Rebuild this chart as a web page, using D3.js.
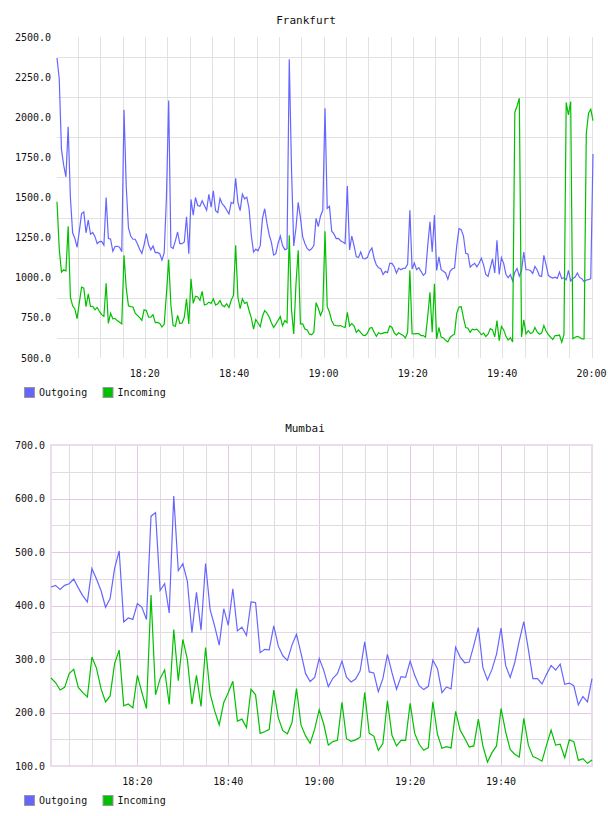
<!DOCTYPE html>
<meta charset="utf-8">
<style>
body { margin: 0; background: #fff; }
text { font-family: "DejaVu Sans Mono", monospace; font-size: 10px; fill: #111; }
.title { font-size: 11px; }
.line { fill: none; stroke-width: 1.2px; }
</style>
<body>
<script src="https://d3js.org/d3.v7.min.js"></script>
<script>
var width = 608, height = 816;

var seriesNames = ["Outgoing", "Incoming"];
var seriesColors = ["#6666ff", "#00c000"];

// Frankfurt: one sample every 30 s from 18:00:20
var frankfurtStart = "2012-01-01 18:00:20";
var frankfurtStepSec = 30;
var frankfurtOutgoing = [
  2369, 2240, 1800, 1700, 1629, 1940, 1500, 1280, 1245, 1190,
  1290, 1400, 1410, 1280, 1360, 1271, 1282, 1256, 1212, 1225,
  1226, 1203, 1500, 1246, 1240, 1165, 1195, 1196, 1190, 1162,
  2046, 1570, 1310, 1260, 1240, 1240, 1212, 1178, 1152, 1205,
  1275, 1205, 1174, 1198, 1157, 1158, 1150, 1110, 1155, 1500,
  2104, 1192, 1182, 1230, 1285, 1212, 1212, 1223, 1380, 1150,
  1488, 1390, 1500, 1450, 1445, 1480, 1450, 1421, 1520, 1440,
  1542, 1418, 1406, 1494, 1460, 1445, 1421, 1398, 1470, 1463,
  1619, 1470, 1418, 1521, 1492, 1502, 1430, 1265, 1160, 1178,
  1168, 1200, 1370, 1430, 1340, 1268, 1220, 1141, 1150, 1215,
  1260, 1200, 1175, 1180, 2362, 1680, 1198, 1310, 1470, 1375,
  1255, 1213, 1183, 1170, 1180, 1200, 1370, 1318, 1385, 1420,
  2056,
  1432, 1445, 1290, 1273, 1244, 1245, 1231, 1222, 1212, 1571,
  1173, 1260, 1200, 1132, 1126, 1160, 1120, 1118, 1127, 1165,
  1185, 1120, 1080, 1062, 1056, 1020, 1040, 1032, 1090, 1090,
  1068, 1029, 1060, 1050, 1058, 1060, 1085, 1421, 1055, 1092,
  1050, 1063, 1040, 1015, 1028, 1200, 1348, 1160, 1390, 1046,
  1130, 1050, 1040, 1030, 990, 1040, 1056, 1061, 1200, 1306,
  1300, 1260, 1152, 1148, 1066, 1080, 1090, 1068, 1090, 1122,
  1080, 1020, 1008, 1062, 1118, 1030, 1233, 1020, 1125, 1090,
  1022, 1000, 1020, 980, 1035, 1058, 1010, 1045, 1160, 1050,
  1050, 1045, 1027, 1070, 1048, 1013, 1008, 1140, 1080, 1015,
  1004, 998, 1004, 996, 1035, 994, 1000, 987, 1046, 980,
  995, 1004, 1030, 1002, 994, 975, 986, 988, 995, 1771
];
var frankfurtIncoming = [
  1473, 1180, 1035, 1050, 1042, 1320, 879, 825, 806, 745,
  845, 942, 935, 820, 900, 821, 822, 800, 815, 790,
  770, 760, 965, 715, 779, 744, 746, 733, 723, 713,
  1140, 935, 825, 820, 818, 780, 766, 752, 735, 800,
  796, 754, 754, 770, 720, 722, 715, 693, 710, 900,
  1113, 830, 702, 698, 765, 715, 718, 754, 869, 712,
  994, 840, 885, 880, 860, 915, 830, 835, 848, 840,
  869, 830, 838, 858, 827, 820, 838, 815, 860, 890,
  1202, 880, 808, 869, 840, 848, 796, 750, 680, 740,
  718, 695, 760, 795, 780, 756, 720, 690, 711, 735,
  758, 700, 733, 720, 1265, 800, 650, 960, 1171, 712,
  712, 681, 675, 650, 645, 660, 845, 810, 765, 800,
  1290,
  820, 785, 732, 705, 702, 700, 702, 695, 690, 785,
  700, 714, 700, 660, 675, 658, 642, 640, 655, 685,
  690, 660, 635, 657, 650, 655, 660, 657, 700, 690,
  657, 642, 657, 648, 641, 625, 660, 1046, 652, 650,
  652, 652, 640, 640, 630, 760, 910, 660, 963, 619,
  690, 630, 625, 610, 600, 628, 640, 650, 780, 817,
  820, 750, 690, 686, 660, 680, 675, 680, 665, 645,
  655, 634, 648, 683, 675, 632, 733, 608, 697, 675,
  637, 612, 626, 600, 2030, 2070, 2119, 631, 738, 650,
  670, 652, 658, 690, 662, 648, 655, 702, 668, 646,
  630, 615, 640, 640, 643, 598, 645, 2092, 2015, 2098,
  620, 629, 635, 629, 619, 619, 1900, 2025, 2050, 1979
];
var frankfurtYTicks = [500, 750, 1000, 1250, 1500, 1750, 2000, 2250, 2500];
var frankfurtXTicks = ["18:20", "18:40", "19:00", "19:20", "19:40", "20:00"];

// Mumbai: one sample per minute from 18:01
var mumbaiStart = "2012-01-01 18:01:00";
var mumbaiStepSec = 60;
var mumbaiOutgoing = [
  434.5, 437.6, 430, 437.6, 440.7, 449.4, 433, 418, 406.6, 469,
  449.4, 428, 396.7, 412.8, 470, 502, 369.3, 376.7, 374, 403.5,
  396.7, 373.7, 567, 573.5, 428, 440.7, 386, 604.5, 465, 478,
  445, 349, 424.5, 354, 478.5, 392.3, 361.3, 326, 394, 363,
  431.4, 352.6, 359.4, 344, 406.6, 405.3, 311.7, 318, 317.2, 362,
  324, 306, 297.4, 326, 346.4, 310.4,
  272.6, 258, 265.7, 301, 278.8, 248.4, 264, 272.6, 296, 266,
  257, 262.6, 278, 332, 275.8, 274, 239, 263.3, 308.6, 274.4,
  243.4, 267, 265.7, 296, 269.5, 249.6, 242.8, 249, 298, 281.9,
  237.2, 247.8, 244, 322.2, 303.6, 293, 294.3, 325.3, 358.8, 283.7,
  260.8, 280.6, 309.2, 357.6, 288, 265.7, 293, 334, 370, 318,
  263.3, 263.3, 253.4, 271.3, 288, 279.4, 290.6, 252.7, 255, 250,
  214.3, 229.8, 219.8, 263.3
];
var mumbaiIncoming = [
  264.5, 256, 242, 247, 272.6, 280.6, 247, 237, 229, 303.6,
  283, 244.6, 219.8, 231, 291.8, 316.6, 212.4, 216, 208.7, 269.5,
  237.2, 207.4, 419.6, 233, 263.3, 279.4, 214.9, 355, 259.5, 336.5,
  299.3, 215.5, 269.5, 211.2, 321.6, 235.4, 203, 177, 218.6, 237.2,
  258.3, 184, 187.6, 172, 243.4, 233, 161, 164, 168.4, 242,
  190, 166, 160.3, 180.8, 244.6, 176.4,
  156.3, 142.5, 168.8, 205, 178, 138.8, 145.6, 148, 218.8, 151,
  146, 148.8, 153.8, 237.5, 161, 156, 129.4, 142, 222, 157.5,
  137.5, 148, 148, 217, 161, 140.6, 129.4, 134.4, 220, 159.4,
  133, 136, 133.8, 202, 167, 152, 135.6, 137.5, 187.5, 137.5,
  107.5, 125, 137.5, 207.5, 163.8, 131, 122, 117, 189, 139,
  117.5, 114, 109, 139, 167, 139, 140.6, 115.6, 149, 145.6,
  110.6, 113.8, 105, 111
];
var mumbaiYTicks = [100, 200, 300, 400, 500, 600, 700];
var mumbaiXTicks = ["18:20", "18:40", "19:00", "19:20", "19:40"];

var parseTime = d3.timeParse("%Y-%m-%d %H:%M:%S");

function times(start, step, n) {
  var t0 = parseTime(start);
  return d3.range(n).map(function(i) { return d3.timeSecond.offset(t0, i * step); });
}
function atClock(ref, hm) {
  var p = hm.split(":");
  var d = new Date(ref);
  d.setHours(+p[0], +p[1], 0, 0);
  return d;
}

var svg = d3.select("body").append("svg")
    .attr("width", width)
    .attr("height", height)
    .style("display", "block");

function drawChart(c) {
  var t = times(c.start, c.step, c.series[0].length);
  var x = d3.scaleTime().domain(d3.extent(t)).range([c.left, c.right]);
  var y = d3.scaleLinear().domain(c.yDomain).range([c.bottom, c.top]);
  var g = svg.append("g");

  // vertical grid every 5 minutes
  var vlines = d3.timeMinute.every(5).range(t[0], d3.timeSecond.offset(t[t.length - 1], 1));
  g.selectAll(".vg").data(vlines).enter().append("line")
      .attr("x1", function(d) { return Math.round(x(d)) + 0.5; })
      .attr("x2", function(d) { return Math.round(x(d)) + 0.5; })
      .attr("y1", c.top).attr("y2", c.bottom)
      .attr("stroke", function(d) { return c.major && d.getMinutes() % 20 == 0 ? c.majorColor : c.gridColor; });

  g.selectAll(".hg").data(c.hGrid).enter().append("line")
      .attr("x1", c.left).attr("x2", c.right)
      .attr("y1", function(d) { return Math.round(y(d)) + 0.5; })
      .attr("y2", function(d) { return Math.round(y(d)) + 0.5; })
      .attr("stroke", function(d) { return c.major && d % 100 == 0 ? c.majorColor : c.gridColor; });

  if (c.border) {
    g.append("rect")
        .attr("x", c.left).attr("y", c.top)
        .attr("width", c.right - c.left).attr("height", c.bottom - c.top)
        .attr("fill", "none").attr("stroke", c.border).attr("stroke-width", 2);
  }

  c.series.forEach(function(s, k) {
    var line = d3.line()
        .x(function(d, i) { return x(t[i]); })
        .y(function(d) { return y(d); });
    g.append("path")
        .datum(s)
        .attr("class", "line")
        .attr("stroke", seriesColors[k])
        .attr("d", line);
  });

  g.append("text").attr("class", "title")
      .attr("x", c.titleX).attr("y", c.titleY)
      .attr("text-anchor", "middle")
      .text(c.title);

  g.selectAll(".yl").data(c.yTicks).enter().append("text")
      .attr("x", c.left - 6)
      .attr("y", function(d) { return y(d) + 3.5; })
      .attr("text-anchor", "end")
      .text(function(d) { return d3.format(".1f")(d); });

  g.selectAll(".xl").data(c.xTicks).enter().append("text")
      .attr("x", function(d) { return x(atClock(t[0], d)); })
      .attr("y", c.bottom + 19)
      .attr("text-anchor", "middle")
      .text(function(d) { return d; });

  var lg = g.append("g").attr("transform", "translate(24," + (c.bottom + 29) + ")");
  var offs = [0, 78.5];
  seriesNames.forEach(function(n, k) {
    lg.append("rect")
        .attr("x", offs[k] + 0.5).attr("y", 0.5)
        .attr("width", 10).attr("height", 10)
        .attr("fill", seriesColors[k])
        .attr("stroke", "#999");
    lg.append("text")
        .attr("x", offs[k] + 15).attr("y", 9)
        .text(n);
  });
}

drawChart({
  title: "Frankfurt", titleX: 306, titleY: 24,
  start: frankfurtStart, step: frankfurtStepSec,
  series: [frankfurtOutgoing, frankfurtIncoming],
  left: 57, right: 593, top: 37, bottom: 358,
  yDomain: [500, 2500], yTicks: frankfurtYTicks,
  hGrid: d3.range(625, 2500, 250),
  xTicks: frankfurtXTicks,
  gridColor: "#e2e2e2"
});

drawChart({
  title: "Mumbai", titleX: 305, titleY: 432,
  start: mumbaiStart, step: mumbaiStepSec,
  series: [mumbaiOutgoing, mumbaiIncoming],
  left: 51, right: 592, top: 445, bottom: 766,
  yDomain: [100, 700], yTicks: mumbaiYTicks,
  hGrid: d3.range(150, 700, 50),
  xTicks: mumbaiXTicks,
  gridColor: "#e0dce0", major: true, majorColor: "#e2c8e2",
  border: "#eadcea"
});
</script>
</body>
